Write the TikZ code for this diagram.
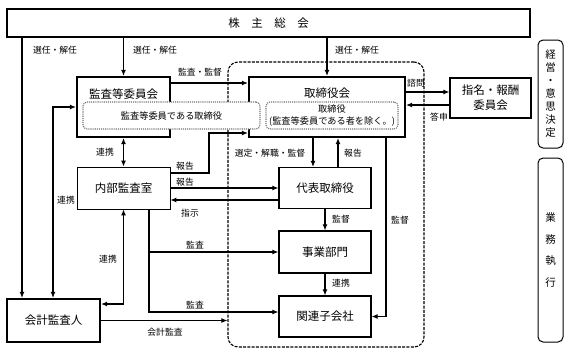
\documentclass[tikz,border=0pt]{standalone}
\usepackage{fontspec}
\setmainfont{Noto Sans CJK JP}
\usetikzlibrary{arrows.meta}

\begin{document}
\begin{tikzpicture}[x=1pt,y=-1pt,>={Latex[length=6pt,width=5pt]},
  big/.style={font=\fontsize{11.5}{13}\selectfont},
  lbl/.style={font=\fontsize{8.8}{10}\selectfont, inner sep=1pt},
  box/.style={draw, line width=1.2pt, big, minimum width=92pt, minimum height=41pt, inner sep=0pt},
  thickbox/.style={box, line width=2.2pt},
  thinbox/.style={box, line width=0.8pt},
  inbox/.style={draw=black!55, densely dotted, line width=1.1pt, fill=white, rounded corners=4pt, inner sep=0pt, align=center, font=\fontsize{9.2}{12}\selectfont},
  sidebox/.style={draw, line width=1pt, rounded corners=5pt, minimum width=25pt, inner sep=0pt, align=center},
  link/.style={line width=1.1pt}]

\useasboundingbox (0,0) rectangle (569,354);

% bend points
\coordinate (c1) at (22,0);
\coordinate (c2) at (53,0);
\coordinate (c4) at (149,0);
\coordinate (c5) at (313,0);
\coordinate (c6) at (338,0);
\coordinate (c7) at (386,0);
\coordinate (k1) at (209,173);
\coordinate (k2) at (0,133);

\node[draw, dash pattern=on 3pt off 1.3pt, line width=1.1pt, rounded corners=10pt,
  minimum width=196pt, minimum height=285pt] (region) at (326,204.5) {};

\node[thickbox, minimum width=523pt, minimum height=28pt] (soukai) at (268.5,23) {株　主　総　会};
\node[thickbox, minimum width=93pt, minimum height=60pt] (kansa) at (123.5,107) {};
\node[big] (kansatitle) at (123.5,94) {監査等委員会};
\node[thickbox, minimum width=156pt, minimum height=60pt] (torishimari) at (327,107) {};
\node[big] (orititle) at (327,93) {取締役会};
\node[thinbox, minimum width=93pt, minimum height=42pt] (naibu) at (123.5,188) {内部監査室};
\node[thickbox, minimum width=93pt, minimum height=43pt] (kaikei) at (53.5,320.5) {会計監査人};
\node[box] (daihyo) at (325,188) {代表取締役};
\node[box, minimum height=42pt] (jigyo) at (325,252) {事業部門};
\node[box] (kanren) at (325,316.5) {関連子会社};
\node[box, minimum width=81pt, minimum height=40pt, align=center,
  font=\fontsize{11.5}{15}\selectfont] (shimei) at (490.5,98) {指名・報酬\\委員会};

\node[inbox, minimum width=177pt, minimum height=27pt] (kansain) at (171.5,115.5) {監査等委員である取締役};
\node[inbox, minimum width=132pt, minimum height=27pt] (toriin) at (332,115.5) {取締役\\(監査等委員である者を除く。)};

\node[sidebox, minimum height=108pt, font=\fontsize{10.5}{13}\selectfont] (keiei) at (550.5,94) {経\\営\\・\\意\\思\\決\\定};
\node[sidebox, minimum height=184pt, font=\fontsize{10.5}{21.5}\selectfont] (gyomu) at (550.5,250) {業\\務\\執\\行};

% shareholders
\draw[link,->] (soukai.south -| c1) -- (kaikei.north -| c1);
\draw[link,->] (soukai.south -| kansa.north) -- (kansa.north);
\draw[link,->] (soukai.south -| torishimari.north) -- (torishimari.north);
\node[lbl] (l1) at (55,50) {選任・解任};
\node[lbl] (l2) at (155,50) {選任・解任};
\node[lbl] (l3) at (357,50) {選任・解任};

% audit committee
\draw[link,->] ([yshift=24pt]kansa.east) -- ([yshift=24pt]kansa.east -| torishimari.west);
\node[lbl] (l4) at (200,72) {監査・監督};
\draw[link,<->] (kaikei.north -| c2) |- (kansa.west);
\node[lbl] (l5) at (66,200) {連携};
\draw[link,<->] (kansa) -- (naibu);
\node[lbl] (l6) at (105,152) {連携};

% nomination
\draw[link,->] ([yshift=15pt]torishimari.east) -- ([yshift=15pt]torishimari.east -| shimei.west);
\draw[link,->] ([yshift=-7pt]shimei.west) -- ([yshift=-7pt]shimei.west -| torishimari.east);
\node[lbl] (l7) at (416,83) {諮問};
\node[lbl] (l8) at (439,117) {答申};

% internal audit
\draw[link,->] (naibu.east |- k1) -- (k1) |- (torishimari.west |- k2);
\node[lbl] (l9) at (185,166) {報告};
\draw[link,->] (naibu.east) -- (naibu.east -| daihyo.west);
\node[lbl] (l10) at (185,182) {報告};
\draw[link,->] ([yshift=-12pt]daihyo.west) -- ([yshift=-12pt]daihyo.west -| naibu.east);
\node[lbl] (l11) at (190,213) {指示};
\draw[link,->] (naibu.south -| c4) |- (jigyo.west);
\draw[link,->] (naibu.south -| c4) |- ([yshift=4.5pt]kanren.west);
\node[lbl] (l12) at (195,245) {監査};
\node[lbl] (l13) at (195,305) {監査};
\draw[link,<->] (naibu.south) |- ([yshift=16.5pt]kaikei.east);
\node[lbl] (l14) at (108,259) {連携};

% accounting auditor
\draw[link,->] (kaikei.east) -- (kaikei.east -| region.west);
\node[lbl] (l15) at (165,332) {会計監査};

% board
\draw[link,->] (torishimari.south -| c5) -- (daihyo.north -| c5);
\draw[link,->] (daihyo.north -| c6) -- (torishimari.south -| c6);
\node[lbl] (l16) at (270,153) {選定・解職・監督};
\node[lbl] (l17) at (353,153) {報告};
\draw[link,->] (torishimari.south -| c7) |- (kanren.east);
\node[lbl] (l18) at (400,220) {監督};
\draw[link,->] (daihyo) -- (jigyo);
\node[lbl] (l19) at (341,219) {監督};
\draw[link,->] (jigyo) -- (kanren);
\node[lbl] (l20) at (341,283) {連携};
\end{tikzpicture}
\end{document}
